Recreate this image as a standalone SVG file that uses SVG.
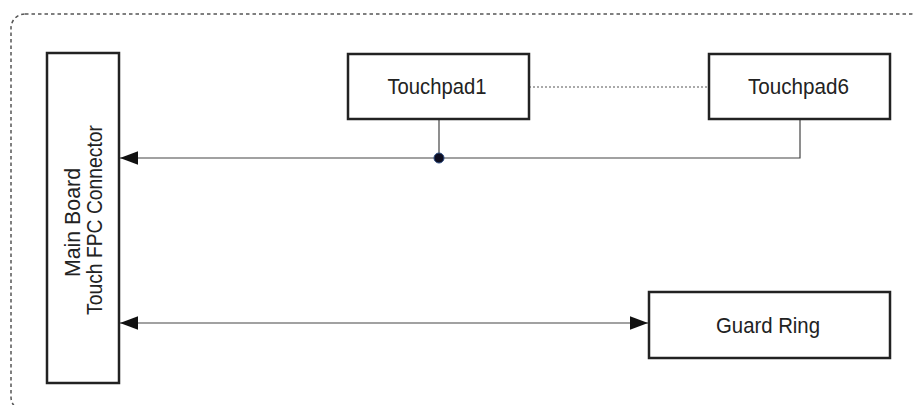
<svg xmlns="http://www.w3.org/2000/svg" width="914" height="405" viewBox="0 0 914 405">
<style>
.box{fill:#fff;stroke:#222;stroke-width:2.5}
.lbl{font-family:"Liberation Sans",Arial,sans-serif;font-size:21.5px;fill:#222;text-anchor:middle}
.wire{fill:none;stroke:#444;stroke-width:1.2}
</style>
<defs>
<marker id="arr" markerUnits="userSpaceOnUse" markerWidth="18" markerHeight="14" viewBox="0 0 16 12" refX="16" refY="6" orient="auto-start-reverse">
<path d="M0,0 L16,6 L0,12 Z" fill="#111"/>
</marker>
</defs>
<rect x="11" y="14" width="914" height="397" rx="14" ry="14" fill="none" stroke="#555" stroke-width="1.5" stroke-dasharray="3.5 3"/>
<g id="connectors">
<polyline class="wire" points="800,119 800,158 120,158" marker-end="url(#arr)"/>
<line class="wire" x1="439" y1="119" x2="439" y2="158"/>
<circle cx="439" cy="158" r="5" fill="#0d0d20" stroke="#2a4a80" stroke-width="1"/>
<line x1="529" y1="87" x2="709" y2="87" stroke="#555" stroke-width="1" stroke-dasharray="2 2"/>
<line class="wire" x1="120" y1="323" x2="648" y2="323" marker-start="url(#arr)" marker-end="url(#arr)"/>
</g>
<g id="mainboard">
<rect class="box" x="47" y="53" width="72" height="330"/>
<text class="lbl" transform="translate(80,222.5) rotate(-90)" x="0" y="0" textLength="109" lengthAdjust="spacingAndGlyphs">Main Board</text>
<text class="lbl" transform="translate(102,220) rotate(-90)" x="0" y="0" textLength="190" lengthAdjust="spacingAndGlyphs">Touch FPC Connector</text>
</g>
<g id="touchpad1">
<rect class="box" x="348" y="54" width="181" height="65"/>
<text class="lbl" x="437" y="94" textLength="99" lengthAdjust="spacingAndGlyphs">Touchpad1</text>
</g>
<g id="touchpad6">
<rect class="box" x="709" y="54" width="181" height="65"/>
<text class="lbl" x="798.5" y="94" textLength="101" lengthAdjust="spacingAndGlyphs">Touchpad6</text>
</g>
<g id="guardring">
<rect class="box" x="649" y="292" width="241" height="66"/>
<text class="lbl" x="768" y="332.5" textLength="104" lengthAdjust="spacingAndGlyphs">Guard Ring</text>
</g>
</svg>
